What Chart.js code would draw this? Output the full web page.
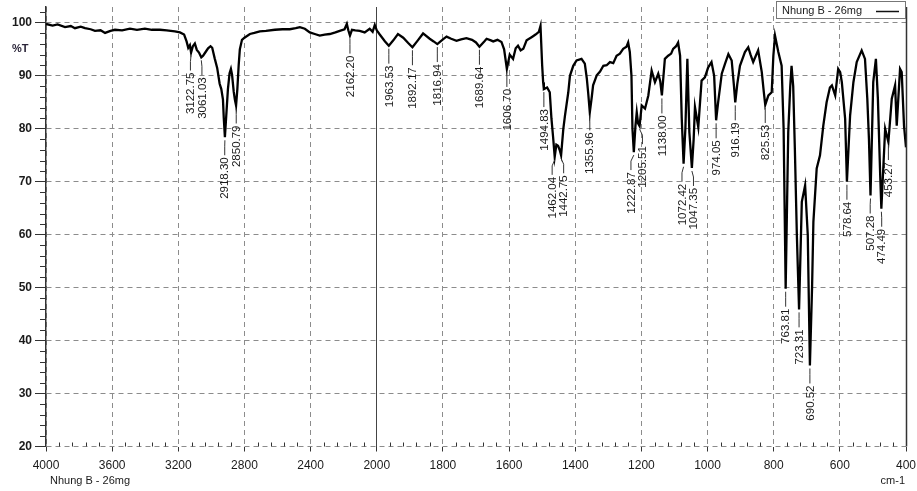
<!DOCTYPE html>
<html>
<head>
<meta charset="utf-8">
<title>IR spectrum - Nhung B - 26mg</title>
<script src="https://cdn.jsdelivr.net/npm/chart.js@4.4.1/dist/chart.umd.min.js"></script>
<style>
    html, body { margin: 0; padding: 0; background: #fff; }
    #wrap { width: 917px; height: 491px; position: relative; }
</style>
</head>
<body>
<div id="wrap"><canvas id="irChart" width="917" height="491"></canvas></div>
<script>
// ==========================================
// Data (cm-1, %T)
// ==========================================
const wavenumbers = [
    4000, 3960, 3930, 3885, 3850, 3825, 3790, 3764, 3730, 3704, 3670, 3643, 3610, 3583, 3540, 3492,
    3450, 3402, 3360, 3311, 3270, 3221, 3190, 3165, 3150, 3140, 3130, 3122.75, 3112, 3100, 3088, 3075,
    3061.03, 3050, 3035, 3020, 3005, 2995, 2980, 2965, 2950, 2940, 2930, 2925, 2918.30, 2910, 2900, 2890,
    2882, 2875, 2865, 2858, 2850.79, 2843, 2835, 2828, 2815, 2800, 2767, 2740, 2707, 2670, 2616, 2570,
    2526, 2490, 2465, 2435, 2405, 2375, 2345, 2315, 2284, 2250, 2224, 2195, 2181, 2172, 2162.20, 2150,
    2130, 2103, 2073, 2043, 2025, 2012, 2000,
    1991, 1975, 1963.53, 1950, 1936, 1920, 1905, 1892.17, 1877, 1860, 1840, 1828, 1816.94, 1800, 1789, 1775,
    1759, 1745, 1729, 1712, 1700, 1689.64, 1675, 1668, 1655, 1648, 1635, 1623, 1615, 1606.70, 1598, 1588,
    1580, 1573, 1565, 1557, 1547, 1532, 1520, 1510, 1505, 1500, 1497, 1494.83, 1485, 1477, 1472, 1467,
    1462.04, 1457, 1452, 1447, 1442.75, 1436, 1431, 1421, 1416, 1406, 1396, 1381, 1371, 1365, 1361, 1355.96,
    1350, 1346, 1335, 1325, 1315, 1305, 1295, 1285, 1275, 1265, 1255, 1245, 1240, 1235, 1230, 1227,
    1222.87, 1218, 1214, 1210, 1205.51, 1199, 1189, 1179, 1169, 1159, 1149, 1143, 1138.00, 1129, 1119, 1110,
    1104, 1095, 1089, 1083, 1078, 1072.42, 1067, 1061, 1055, 1047.35, 1042, 1038, 1028, 1018, 1008, 998,
    988, 980, 974.05, 968, 957, 947, 937, 927, 920, 916.19, 910, 902, 887, 877, 870, 862,
    847, 836, 830, 825.53, 816, 806, 801, 796, 786, 776, 770, 763.81, 756, 750, 746, 741,
    736, 730, 723.31, 715, 705, 697, 690.52, 684, 680, 670, 660, 650, 640, 630, 624, 614,
    605, 599, 594, 584, 578.64, 569, 559, 549, 534, 524, 517, 512, 507.28, 499, 491, 485,
    478, 474.49, 463, 453.27, 443, 433, 428, 418, 413, 406, 400
];
const transmittance = [
    99.8, 99.5, 99.7, 99.2, 99.4, 99.0, 99.3, 99.0, 98.8, 98.5, 98.6, 98.1, 98.5, 98.7, 98.6, 98.9,
    98.7, 98.9, 98.7, 98.7, 98.6, 98.4, 98.2, 97.8, 96.5, 95.3, 95.8, 94.4, 95.6, 96.1, 94.9, 94.4,
    93.5, 93.8, 94.5, 95.2, 95.6, 95.3, 93.3, 91.5, 88.5, 87.5, 85.5, 82.0, 78.4, 82.5, 87.5, 90.5,
    91.3, 90.2, 87.0, 85.5, 84.4, 87.5, 92.0, 95.0, 96.8, 97.2, 97.9, 98.1, 98.4, 98.5, 98.7, 98.8,
    98.8, 99.0, 99.2, 98.9, 98.2, 97.9, 97.6, 97.8, 97.9, 98.2, 98.5, 98.8, 99.8, 98.6, 97.6, 98.7,
    98.6, 98.5, 98.2, 98.9, 98.3, 99.6, 98.6,
    97.8, 96.5, 95.7, 96.7, 97.9, 97.2, 96.2, 95.4, 96.6, 98.0, 97.0, 96.5, 96.0, 96.9, 97.4, 97.0,
    96.6, 96.9, 97.1, 96.8, 96.3, 95.5, 96.5, 97.0, 96.7, 96.5, 96.8, 96.4, 95.0, 91.3, 94.0, 93.2,
    95.2, 95.7, 94.8, 95.1, 96.7, 97.3, 97.8, 98.3, 99.4, 92.0, 88.8, 87.5, 87.8, 86.9, 82.0, 78.5,
    74.7, 77.0, 76.8, 76.0, 75.0, 80.0, 82.5, 86.9, 90.0, 91.9, 92.9, 93.2, 92.3, 89.5, 86.9, 83.1,
    86.0, 88.2, 90.1, 90.8, 91.9, 92.0, 92.6, 92.4, 93.8, 94.2, 95.1, 95.5, 96.3, 94.5, 90.0, 80.0,
    75.6, 80.5, 83.1, 81.0, 80.5, 84.4, 83.8, 86.3, 91.0, 88.8, 90.4, 89.0, 86.3, 93.2, 93.8, 94.2,
    95.1, 95.6, 96.3, 93.8, 82.0, 73.4, 80.0, 93.2, 79.4, 72.6, 78.0, 84.1, 80.3, 89.1, 89.7, 91.6,
    92.6, 90.0, 81.6, 85.0, 90.4, 92.3, 94.1, 92.9, 88.0, 85.0, 88.5, 91.9, 94.5, 95.4, 94.0, 92.6,
    94.8, 90.7, 87.0, 84.5, 86.3, 86.9, 93.8, 97.6, 94.5, 91.9, 80.0, 49.8, 79.4, 88.0, 91.9, 88.0,
    76.2, 60.0, 45.9, 66.2, 69.3, 60.0, 35.3, 50.0, 62.4, 72.5, 75.0, 80.6, 85.0, 87.8, 88.2, 86.3,
    91.3, 90.7, 88.8, 81.9, 70.0, 82.5, 88.8, 92.6, 94.8, 93.2, 85.7, 78.0, 67.4, 88.8, 93.2, 85.7,
    71.2, 64.9, 80.0, 77.5, 85.7, 88.2, 80.6, 91.3, 90.7, 80.6, 76.5
];
const peakWavenumbers = [
    3122.75, 3061.03, 2918.30, 2850.79, 2162.20, 1963.53, 1892.17, 1816.94, 1689.64, 1606.70,
    1494.83, 1462.04, 1442.75, 1355.96, 1222.87, 1205.51, 1138.00, 1072.42, 1047.35, 974.05,
    916.19, 825.53, 763.81, 723.31, 690.52, 578.64, 507.28, 474.49, 453.27
];
const xTickValues = [4000, 3600, 3200, 2800, 2400, 2000, 1800, 1600, 1400, 1200, 1000, 800, 600, 400];
const yTickValues = [20, 30, 40, 50, 60, 70, 80, 90, 100];
const sampleName = 'Nhung B - 26mg';
const xUnit = 'cm-1';
const yUnit = '%T';

// ==========================================
// Wavenumber axis with 2x expansion below 2000 cm-1
// ==========================================
const X_MIN = 400, X_MAX = 4000, X_BREAK = 2000;

class IrScale extends Chart.LinearScale {
    _u(v) {
        return v >= X_BREAK ? (X_MAX - v) / 2 : (X_MAX - X_BREAK) / 2 + (X_BREAK - v);
    }
    getPixelForValue(v) {
        if (v === null || v === undefined || isNaN(v)) return NaN;
        return this.left + this.width * this._u(v) / this._u(X_MIN);
    }
    getValueForPixel(p) {
        const u = (p - this.left) / this.width * this._u(X_MIN);
        const half = (X_MAX - X_BREAK) / 2;
        return u <= half ? X_MAX - 2 * u : X_BREAK - (u - half);
    }
}
IrScale.id = 'irscale';
IrScale.defaults = {};
Chart.register(IrScale);

const FONT = "'Liberation Sans', Arial, sans-serif";
const INK = '#1a1a1a';
const GRID = '#8c8c8c';

function valueAt(w) {
    let best = 0;
    wavenumbers.forEach((x, i) => {
        if (Math.abs(x - w) < Math.abs(wavenumbers[best] - w)) best = i;
    });
    return transmittance[best];
}

// ==========================================
// Extras: minor ticks, frame, peak labels, captions
// ==========================================
const irDecorations = {
    id: 'irDecorations',
    afterDraw(chart) {
        const { ctx, chartArea: a, scales: { x, y } } = chart;
        ctx.save();

        // minor ticks on the %T axis (every 2)
        ctx.strokeStyle = '#333';
        ctx.lineWidth = 1;
        ctx.beginPath();
        for (let v = 22; v <= 102; v += 2) {
            if (v % 10 === 0) continue;
            const py = Math.round(y.getPixelForValue(v)) + 0.5;
            ctx.moveTo(a.left - 6, py);
            ctx.lineTo(a.left, py);
        }
        // minor ticks on the wavenumber axis (5 per major interval)
        for (let i = 0; i < xTickValues.length - 1; i++) {
            const step = (xTickValues[i] - xTickValues[i + 1]) / 5;
            for (let k = 1; k < 5; k++) {
                const px = Math.round(x.getPixelForValue(xTickValues[i] - k * step)) + 0.5;
                ctx.moveTo(px, a.bottom);
                ctx.lineTo(px, a.bottom - 4);
            }
        }
        ctx.stroke();

        // right frame
        ctx.strokeStyle = '#333';
        ctx.lineWidth = 1.5;
        ctx.beginPath();
        ctx.moveTo(Math.round(a.right) + 0.5, a.top);
        ctx.lineTo(Math.round(a.right) + 0.5, a.bottom);
        ctx.stroke();

        // peak labels, spread apart where they would collide
        const items = peakWavenumbers.map(w => {
            const px = x.getPixelForValue(w);
            const py = y.getPixelForValue(valueAt(w));
            return { w, px, py, lx: px };
        }).sort((p, q) => p.px - q.px);
        const MIN_SEP = 11.5;
        for (let pass = 0; pass < 8; pass++) {
            for (let i = 1; i < items.length; i++) {
                const p = items[i - 1], q = items[i];
                const d = q.lx - p.lx;
                if (d < MIN_SEP && Math.abs(q.py - p.py) < 48) {
                    const s = (MIN_SEP - d) / 2;
                    p.lx -= s;
                    q.lx += s;
                }
            }
        }
        ctx.font = '11.5px ' + FONT;
        ctx.fillStyle = INK;
        ctx.strokeStyle = '#333';
        ctx.lineWidth = 1;
        items.forEach(it => {
            const top = it.py + 3;
            ctx.beginPath();
            ctx.moveTo(it.px, top);
            ctx.lineTo(it.lx, top + 6);
            ctx.lineTo(it.lx, top + 15);
            ctx.stroke();
            ctx.save();
            ctx.translate(it.lx, top + 17);
            ctx.rotate(-Math.PI / 2);
            ctx.textAlign = 'right';
            ctx.textBaseline = 'middle';
            ctx.fillText(it.w.toFixed(2), 0, 0.5);
            ctx.restore();
        });

        // legend box, top right
        ctx.fillStyle = '#fff';
        ctx.fillRect(776.5, 1.5, 129, 17);
        ctx.strokeStyle = '#777';
        ctx.strokeRect(776.5, 1.5, 129, 17);
        ctx.fillStyle = INK;
        ctx.font = '11px ' + FONT;
        ctx.textAlign = 'left';
        ctx.textBaseline = 'middle';
        ctx.fillText(sampleName, 782, 11);
        ctx.strokeStyle = '#111';
        ctx.lineWidth = 1.5;
        ctx.beginPath();
        ctx.moveTo(876, 11.5);
        ctx.lineTo(899, 11.5);
        ctx.stroke();

        // axis captions
        ctx.font = 'bold 11px ' + FONT;
        ctx.fillStyle = '#2a2438';
        ctx.fillText(yUnit, 12, 49);
        ctx.font = '11px ' + FONT;
        ctx.fillStyle = INK;
        ctx.fillText(sampleName, 50, 481);
        ctx.textAlign = 'right';
        ctx.fillText(xUnit, 905, 481);

        ctx.restore();
    }
};

// ==========================================
// Chart
// ==========================================
new Chart(document.getElementById('irChart'), {
    type: 'line',
    data: {
        datasets: [{
            label: sampleName,
            data: wavenumbers.map((w, i) => ({ x: w, y: transmittance[i] })),
            borderColor: '#000',
            borderWidth: 2.3,
            pointRadius: 0,
            tension: 0,
            fill: false
        }]
    },
    options: {
        responsive: false,
        animation: false,
        events: [],
        layout: { padding: { top: 7, right: 11, left: 0, bottom: 0 } },
        plugins: {
            legend: { display: false },
            tooltip: { enabled: false }
        },
        scales: {
            x: {
                type: 'irscale',
                min: X_MIN,
                max: X_MAX,
                afterBuildTicks: s => { s.ticks = xTickValues.map(v => ({ value: v })); },
                afterFit: s => {
                    s.height = 44.5;
                    s.paddingLeft = 0;
                    s.paddingRight = 0;
                },
                grid: {
                    color: c => (c.tick && c.tick.value === X_BREAK) ? '#444' : GRID,
                    lineWidth: 1,
                    tickLength: 5,
                    tickColor: '#333'
                },
                border: {
                    display: false,
                    dash: c => (c.tick && c.tick.value === X_BREAK) ? [] : [5, 4]
                },
                ticks: {
                    autoSkip: false,
                    maxRotation: 0,
                    padding: 7,
                    color: INK,
                    font: { family: FONT, size: 12 },
                    callback: v => String(v)
                }
            },
            y: {
                min: 20,
                max: 103,
                afterBuildTicks: s => { s.ticks = yTickValues.map(v => ({ value: v })); },
                afterFit: s => {
                    s.width = 46;
                    s.paddingTop = 0;
                    s.paddingBottom = 0;
                },
                grid: {
                    color: GRID,
                    lineWidth: 1,
                    tickLength: 11,
                    tickColor: '#333'
                },
                border: { display: true, color: '#333', width: 1.5, dash: [5, 4] },
                ticks: {
                    padding: 3,
                    color: INK,
                    font: { family: FONT, size: 12, weight: 'bold' },
                    callback: v => String(v)
                }
            }
        }
    },
    plugins: [irDecorations]
});
</script>
</body>
</html>
